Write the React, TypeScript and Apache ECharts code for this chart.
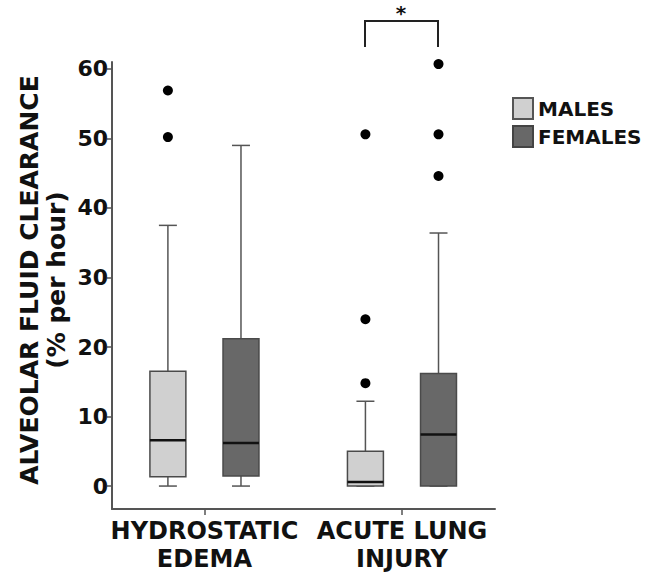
import React, { useEffect, useRef } from "react";
import * as echarts from "echarts";

// Category labels
const groups = ["HYDROSTATIC\nEDEMA", "ACUTE LUNG\nINJURY"];
const yTicks = [0, 10, 20, 30, 40, 50, 60];
const seriesNames = ["MALES", "FEMALES"];

// Box statistics per group: [min, q1, median, q3, max]
const malesBox = [
  [0, 1.35, 6.6, 16.5, 37.5],
  [0, 0, 0.6, 5.0, 12.2],
];
const femalesBox = [
  [0, 1.45, 6.2, 21.2, 49.0],
  [0, 0, 7.4, 16.2, 36.4],
];
// Outliers: [groupIndex, value]
const malesOutliers = [
  [0, 56.9],
  [0, 50.2],
  [1, 50.6],
  [1, 24.0],
  [1, 14.8],
];
const femalesOutliers = [
  [1, 60.7],
  [1, 50.6],
  [1, 44.6],
];

const FONT = "DejaVu Sans";
const OFFSET = 0.185;
const BOX_W = 0.182;
const CAP_W = 0.091;

export default function App() {
  const ref = useRef<HTMLDivElement>(null);

  useEffect(() => {
    if (!ref.current) return;
    const chart = echarts.init(ref.current, undefined, { renderer: "svg" });

    const boxData = (boxes: number[][], off: number) =>
      boxes.map((b, i) => [i + 1 + off, ...b]);
    const outData = (pts: number[][], off: number) =>
      pts.map((p) => [p[0] + 1 + off, p[1]]);

    const renderBox = (fill: string) => (params: any, api: any) => {
      const x = api.value(0);
      const mn = api.value(1);
      const q1 = api.value(2);
      const md = api.value(3);
      const q3 = api.value(4);
      const mx = api.value(5);
      const bw = api.size([BOX_W, 0])[0];
      const cw = api.size([CAP_W, 0])[0];
      const pMin = api.coord([x, mn]);
      const pQ1 = api.coord([x, q1]);
      const pMd = api.coord([x, md]);
      const pQ3 = api.coord([x, q3]);
      const pMax = api.coord([x, mx]);
      const cx = pMin[0];
      const wStyle = { stroke: "#555", lineWidth: 1.5 };
      return {
        type: "group",
        children: [
          { type: "line", shape: { x1: cx, y1: pMax[1], x2: cx, y2: pQ3[1] }, style: wStyle },
          { type: "line", shape: { x1: cx, y1: pQ1[1], x2: cx, y2: pMin[1] }, style: wStyle },
          { type: "line", shape: { x1: cx - cw / 2, y1: pMax[1], x2: cx + cw / 2, y2: pMax[1] }, style: wStyle },
          { type: "line", shape: { x1: cx - cw / 2, y1: pMin[1], x2: cx + cw / 2, y2: pMin[1] }, style: wStyle },
          {
            type: "rect",
            shape: { x: cx - bw / 2, y: pQ3[1], width: bw, height: pQ1[1] - pQ3[1] },
            style: { fill, stroke: "#4a4a4a", lineWidth: 1.5 },
          },
          {
            type: "line",
            shape: { x1: cx - bw / 2, y1: pMd[1], x2: cx + bw / 2, y2: pMd[1] },
            style: { stroke: "#111", lineWidth: 2.5 },
          },
        ],
      };
    };

    chart.setOption({
      animation: false,
      backgroundColor: "#fff",
      grid: { left: 112, right: 150, top: 62, bottom: 71 },
      legend: {
        data: seriesNames,
        orient: "vertical",
        left: 507,
        top: 92,
        icon: "rect",
        itemWidth: 20,
        itemHeight: 21,
        itemGap: 5,
        textStyle: { fontFamily: FONT, fontWeight: "bold", fontSize: 20, color: "#111" },
      },
      xAxis: {
        type: "value",
        min: 0.532,
        max: 2.471,
        splitLine: { show: false },
        axisLine: { show: true, onZero: false, lineStyle: { color: "#555", width: 2 } },
        axisTick: { show: true, length: 6, customValues: [1, 2], lineStyle: { color: "#555", width: 1.5 } },
        axisLabel: {
          customValues: [1, 2],
          formatter: (v: number) => groups[Math.round(v) - 1] ?? "",
          fontFamily: FONT,
          fontWeight: "bold",
          fontSize: 24,
          lineHeight: 28,
          color: "#111",
          margin: 8,
        },
      },
      yAxis: {
        type: "value",
        min: -3.3,
        max: 61,
        splitLine: { show: false },
        axisLine: { show: true, onZero: false, lineStyle: { color: "#555", width: 2 } },
        axisTick: { show: true, length: 5, customValues: yTicks, lineStyle: { color: "#555", width: 1.5 } },
        axisLabel: {
          customValues: yTicks,
          fontFamily: FONT,
          fontWeight: "bold",
          fontSize: 22,
          color: "#111",
          margin: 4,
        },
      },
      graphic: [
        {
          type: "text",
          x: 43,
          y: 280,
          rotation: Math.PI / 2,
          style: {
            text: "ALVEOLAR FLUID CLEARANCE\n(% per hour)",
            font: `bold 25px "${FONT}"`,
            fill: "#111",
            align: "center",
            verticalAlign: "middle",
            lineHeight: 27,
          },
        },
        {
          type: "polyline",
          shape: { points: [[365, 47], [365, 21], [438, 21], [438, 47]] },
          style: { stroke: "#222", lineWidth: 2, fill: "none" },
        },
        {
          type: "text",
          x: 401,
          y: 13,
          style: {
            text: "*",
            font: `bold 20px "${FONT}"`,
            fill: "#111",
            align: "center",
            verticalAlign: "middle",
          },
        },
      ],
      series: [
        {
          name: "MALES",
          type: "custom",
          renderItem: renderBox("#d0d0d0"),
          itemStyle: { color: "#d0d0d0", borderColor: "#555", borderWidth: 1 },
          encode: { x: 0, y: [1, 2, 3, 4, 5] },
          data: boxData(malesBox, -OFFSET),
        },
        {
          name: "FEMALES",
          type: "custom",
          renderItem: renderBox("#686868"),
          itemStyle: { color: "#686868", borderColor: "#444", borderWidth: 1 },
          encode: { x: 0, y: [1, 2, 3, 4, 5] },
          data: boxData(femalesBox, OFFSET),
        },
        {
          name: "males-outliers",
          type: "scatter",
          symbolSize: 10,
          itemStyle: { color: "#000", opacity: 1 },
          data: outData(malesOutliers, -OFFSET),
        },
        {
          name: "females-outliers",
          type: "scatter",
          symbolSize: 10,
          itemStyle: { color: "#000", opacity: 1 },
          data: outData(femalesOutliers, OFFSET),
        },
      ],
    });

    return () => chart.dispose();
  }, []);

  return (
    <div
      ref={ref}
      style={{ position: "fixed", left: 0, top: 0, width: 645, height: 580, background: "#fff" }}
    />
  );
}
